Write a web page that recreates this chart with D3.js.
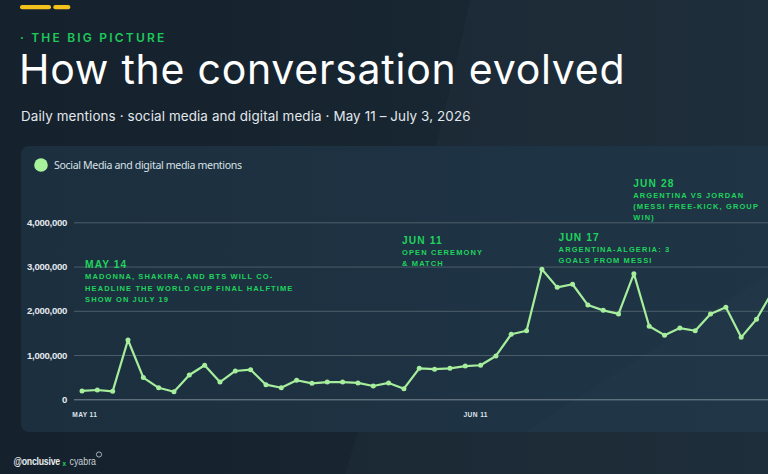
<!DOCTYPE html>
<html><head><meta charset="utf-8">
<script src="https://cdn.jsdelivr.net/npm/d3@7"></script>
<style>html,body{margin:0;padding:0;background:#16232e;overflow:hidden}</style>
</head><body><svg id="c" width="768" height="474"></svg>
<script>
// ---------- DATA ----------
const categories = ["May 11","May 12","May 13","May 14","May 15","May 16","May 17","May 18","May 19","May 20",
  "May 21","May 22","May 23","May 24","May 25","May 26","May 27","May 28","May 29","May 30",
  "May 31","Jun 1","Jun 2","Jun 3","Jun 4","Jun 5","Jun 6","Jun 7","Jun 8","Jun 9",
  "Jun 10","Jun 11","Jun 12","Jun 13","Jun 14","Jun 15","Jun 16","Jun 17","Jun 18","Jun 19",
  "Jun 20","Jun 21","Jun 22","Jun 23","Jun 24","Jun 25"];
const mentions = [190000,210000,180000,1340000,490000,260000,170000,550000,770000,390000,
  640000,670000,330000,260000,430000,360000,390000,390000,370000,300000,
  370000,240000,700000,680000,700000,750000,770000,980000,1470000,1550000,
  2940000,2530000,2600000,2130000,2010000,1930000,2840000,1650000,1450000,1610000,
  1550000,1930000,2080000,1400000,1810000,2410000];
const seriesName = "Social Media and digital media mentions";
const yTickValues = [0,1000000,2000000,3000000,4000000];
const xTickLabels = ["MAY 11","JUN 11"];
const xTickAt = [0.15, 25.65];
const annTitles = ["MAY 14","JUN 11","JUN 17","JUN 28"];
const annLines = [
  ["MADONNA, SHAKIRA, AND BTS WILL CO-","HEADLINE THE WORLD CUP FINAL HALFTIME","SHOW ON JULY 19"],
  ["OPEN CEREMONY","& MATCH"],
  ["ARGENTINA-ALGERIA: 3","GOALS FROM MESSI"],
  ["ARGENTINA VS JORDAN","(MESSI FREE-KICK, GROUP","WIN)"]
];
const annAtIndex = [0.2, 20.88, 31.09, 35.96];
const annAtValue = [2960000, 3520000, 3580000, 4800000];

// ---------- LAYOUT ----------
const W = 768, H = 474;
const svg = d3.select("#c");
const defs = svg.append("defs");
const bg = defs.append("linearGradient").attr("id","bg").attr("x1","0").attr("x2","1").attr("y1","0").attr("y2","0");
bg.append("stop").attr("offset","0").attr("stop-color","#15212c");
bg.append("stop").attr("offset","1").attr("stop-color","#1a2a37");
const cg = defs.append("linearGradient").attr("id","card").attr("x1","0").attr("x2","1").attr("y1","0").attr("y2","0");
cg.append("stop").attr("offset","0").attr("stop-color","#1c2f3f");
cg.append("stop").attr("offset","1").attr("stop-color","#1f3546");

svg.append("rect").attr("width",W).attr("height",H).attr("fill","url(#bg)");
svg.append("path").attr("d","M470,0 Q420,230 345,474 L768,474 L768,0 Z").attr("fill","#ffffff").attr("opacity",0.018);

// header
svg.append("rect").attr("x",20).attr("y",5).attr("width",31).attr("height",4.3).attr("rx",2.1).attr("fill","#f4c21c");
svg.append("rect").attr("x",53.3).attr("y",5).attr("width",17).attr("height",4.3).attr("rx",2.1).attr("fill","#f4c21c");
svg.append("text").attr("x",20).attr("y",42).text("· THE BIG PICTURE")
  .attr("font-family","Inter, sans-serif").attr("font-weight",600).attr("font-size",12)
  .attr("letter-spacing",2.2).attr("fill","#1ec95a");
svg.append("text").attr("x",19).attr("y",83.5).text("How the conversation evolved")
  .attr("font-family","Inter, sans-serif").attr("font-weight",400).attr("font-size",41)
  .attr("letter-spacing",0.75).attr("fill","#ffffff");
svg.append("text").attr("x",21).attr("y",120.7).text("Daily mentions · social media and digital media · May 11 – July 3, 2026")
  .attr("font-family","Inter, sans-serif").attr("font-weight",400).attr("font-size",13.4)
  .attr("letter-spacing",0.12).attr("fill","#e3e8ec");

// card
svg.append("rect").attr("x",21).attr("y",146).attr("width",800).attr("height",286).attr("rx",8).attr("fill","url(#card)");
svg.append("path").attr("d","M525,432 L790,260 L790,432 Z").attr("fill","#ffffff").attr("opacity",0.012);

// legend
svg.append("circle").attr("cx",41).attr("cy",165).attr("r",6.8).attr("fill","#a9f29c");
svg.append("text").attr("x",54).attr("y",168.7).text(seriesName)
  .attr("font-family","'Noto Sans', sans-serif").attr("font-size",10.6).attr("letter-spacing",-0.35).attr("fill","#d9e1e6");

// scales
const x = d3.scaleLinear().domain([0, mentions.length-1]).range([82, 82 + (mentions.length-1)*15.33]);
const y = d3.scaleLinear().domain([0, 4000000]).range([399.3, 222.3]);

// y axis + gridlines
const yAxis = d3.axisLeft(y).tickValues(yTickValues).tickFormat(d3.format(",")).tickSize(-(W-74+60)).tickPadding(7);
const gy = svg.append("g").attr("transform","translate(74,0)").call(yAxis);
gy.select(".domain").remove();
gy.selectAll(".tick line").attr("stroke", d => d===0 ? "#7b8a95" : "#4d5e6b").attr("stroke-width",1);
gy.selectAll(".tick text").attr("font-family","'Liberation Sans', Arial, sans-serif").attr("font-weight",700)
  .attr("font-size",9.6).attr("fill","#e4e9ed").attr("letter-spacing",-0.3);

// x axis labels
const xAxis = d3.axisBottom(x).tickValues(xTickAt).tickFormat((d,i)=>xTickLabels[i]).tickSize(0).tickPadding(11);
const gx = svg.append("g").attr("transform","translate(0,405.5)").call(xAxis);
gx.select(".domain").remove();
gx.selectAll(".tick text").attr("font-family","'Liberation Sans', Arial, sans-serif").attr("font-weight",700)
  .attr("font-size",6.6).attr("fill","#dfe5ea").attr("letter-spacing",0.4).attr("dy",0);

// annotations
annTitles.forEach((t,i)=>{
  const ax = x(annAtIndex[i]), ay = y(annAtValue[i]);
  const g = svg.append("g");
  g.append("text").attr("x",ax).attr("y",ay).text(t)
    .attr("font-family","'Liberation Sans', Arial, sans-serif").attr("font-weight",700)
    .attr("font-size",10.2).attr("letter-spacing",1.1).attr("fill","#1fd35c");
  annLines[i].forEach((ln,j)=>{
    g.append("text").attr("x",ax).attr("y",ay + 11 + j*11.2).text(ln)
      .attr("font-family","'Liberation Sans', Arial, sans-serif").attr("font-weight",700)
      .attr("font-size",7.5).attr("letter-spacing",1.1).attr("fill","#1fd35c");
  });
});

// line
const line = d3.line().x((d,i)=>x(i)).y(d=>y(d));
svg.append("path").datum(mentions).attr("d",line).attr("fill","none")
  .attr("stroke","#a6ee9c").attr("stroke-width",2.2).attr("stroke-linejoin","round");
svg.selectAll("circle.pt").data(mentions).join("circle").attr("class","pt")
  .attr("cx",(d,i)=>x(i)).attr("cy",d=>y(d)).attr("r",2.5).attr("fill","#a6ee9c");

// footer (fit widths to reference)
const fontF = "'Liberation Sans', Arial, sans-serif";
function fitText(t, target){
  const w = t.node().getComputedTextLength();
  const fs = parseFloat(t.attr("font-size"));
  t.attr("transform", null);
  const sx = target / w;
  const x0 = parseFloat(t.attr("x")), y0 = parseFloat(t.attr("y"));
  t.attr("transform", `translate(${x0},${y0}) scale(${sx},1) translate(${-x0},${-y0})`);
  return x0 + target;
}
const t1 = svg.append("text").attr("x",13.5).attr("y",465.5).text("@onclusive").attr("font-family",fontF)
  .attr("font-weight",700).attr("font-size",11).attr("letter-spacing",-0.3).attr("fill","#e8ecef");
const e1 = fitText(t1, 46.5);
svg.append("text").attr("x",e1+2.5).attr("y",465.5).text("x").attr("font-family",fontF)
  .attr("font-weight",700).attr("font-size",6.5).attr("fill","#1fd35c");
const t2 = svg.append("text").attr("x",e1+9.5).attr("y",465.5).text("cyabra").attr("font-family",fontF)
  .attr("font-size",11.5).attr("fill","#c9d1d7");
const e2 = fitText(t2, 26.5);
svg.append("circle").attr("cx",e2+3).attr("cy",454.5).attr("r",2.6).attr("fill","none").attr("stroke","#c9d1d7").attr("stroke-width",0.8);
</script></body></html>
